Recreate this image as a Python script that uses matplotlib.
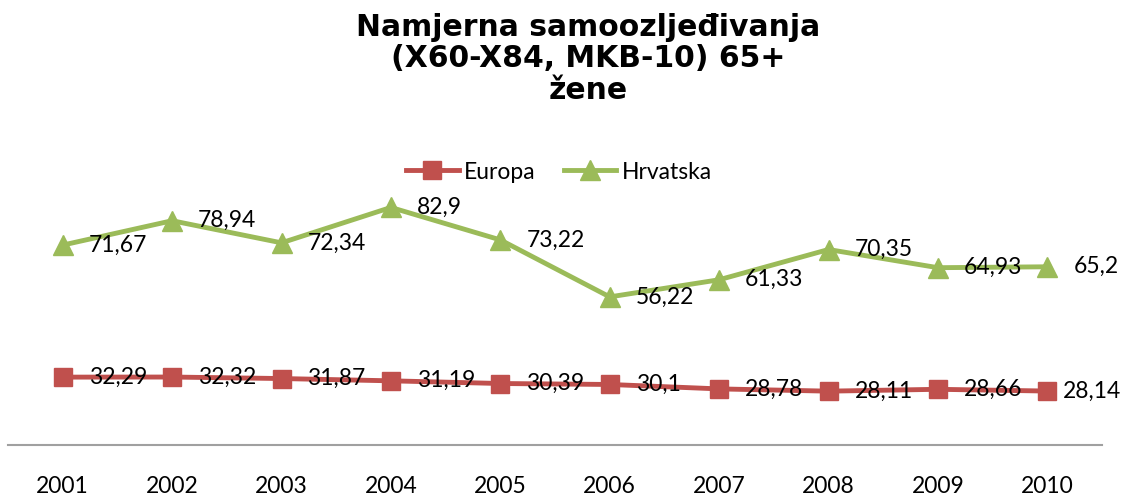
import matplotlib
matplotlib.use("Agg")
import matplotlib.pyplot as plt

years = ["2001", "2002", "2003", "2004", "2005", "2006", "2007", "2008", "2009", "2010"]
europa = [32.29, 32.32, 31.87, 31.19, 30.39, 30.10, 28.78, 28.11, 28.66, 28.14]
hrvatska = [71.67, 78.94, 72.34, 82.90, 73.22, 56.22, 61.33, 70.35, 64.93, 65.20]

RED = "#C0504D"
GREEN = "#9BBB59"
LABEL_FONT = "Lato"


def fmt(v):
    # Croatian decimal comma, trailing zeros dropped
    return f"{v:g}".replace(".", ",")


W, H = 1124, 498
fig = plt.figure(figsize=(W / 100, H / 100), dpi=100)
ax = fig.add_axes([8 / W, (H - 445) / H, (1102 - 8) / W, 255 / H])

x = list(range(len(years)))
ax.plot(x, europa, color=RED, lw=3.5, marker="s", ms=13.5, label="Europa")
ax.plot(x, hrvatska, color=GREEN, lw=3.5, marker="^", ms=14, label="Hrvatska")

# data labels to the right of each point
for series in (europa, hrvatska):
    for i, v in enumerate(series):
        dx = 26
        if i == len(series) - 1 and series is europa:
            dx = 16
        ax.annotate(fmt(v), (i, v), xytext=(dx * 0.72, 0), textcoords="offset points",
                    ha="left", va="center", fontsize=16.5, family=LABEL_FONT, color="black")

ax.set_xlim(-0.5, len(years) - 0.5)
ax.set_ylim(12.05, 88.1)
ax.set_xticks(x)
ax.set_xticklabels(years, fontsize=16.5, family=LABEL_FONT)
ax.tick_params(axis="x", length=0, pad=22)
ax.set_yticks([])
for side in ("left", "right", "top"):
    ax.spines[side].set_visible(False)
ax.spines["bottom"].set_color("#A0A0A0")
ax.spines["bottom"].set_linewidth(1.5)

leg = fig.legend(loc="center", bbox_to_anchor=(559 / W, 1 - 172 / H), ncol=2, frameon=False,
                 prop={"family": LABEL_FONT, "size": 16.5}, handlelength=2.3,
                 handletextpad=0.25, columnspacing=1.2)

fig.text(588 / W, 1 - 13 / H, "Namjerna samoozljeđivanja\n(X60-X84, MKB-10) 65+\nžene",
         ha="center", va="top", multialignment="center", fontsize=21.5,
         fontweight="bold", family="DejaVu Sans", linespacing=1.1)

fig.savefig("out.png", dpi=100)
